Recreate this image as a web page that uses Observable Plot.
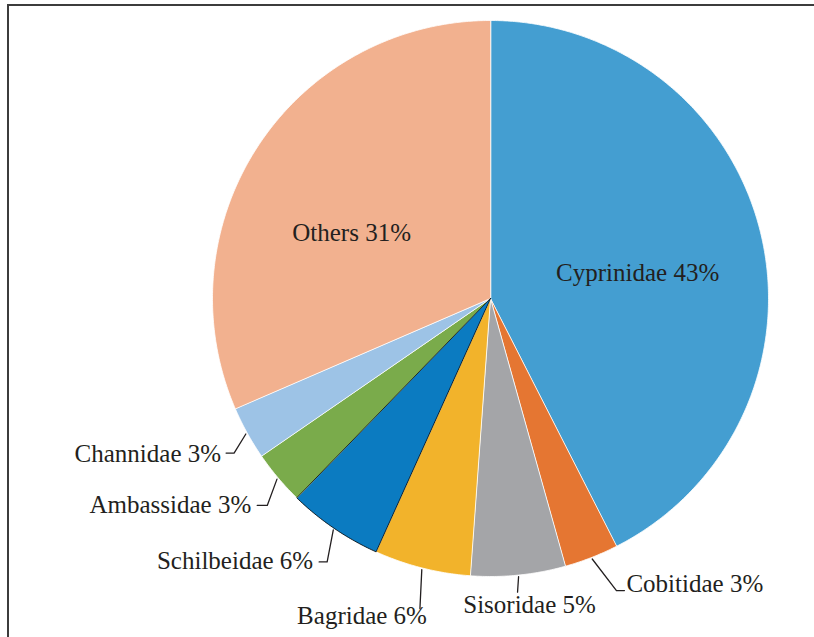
<!DOCTYPE html>
<html>
<head>
<meta charset="utf-8">
<script src="https://cdn.jsdelivr.net/npm/d3@7"></script>
<script src="https://cdn.jsdelivr.net/npm/@observablehq/plot@0.6"></script>
<style>
  html, body { margin: 0; padding: 0; background: #fff; }
  #wrap { position: relative; width: 814px; height: 637px; overflow: hidden; }
  #frame { position: absolute; left: 7px; top: 4px; width: 900px; height: 700px;
           border-top: 2px solid #3c3c3c; border-left: 2px solid #3c3c3c; pointer-events: none; }
  svg { display: block; }
</style>
</head>
<body>
<div id="wrap"><div id="frame"></div></div>
<script>
// ---- data ----
const names = ["Cyprinidae", "Cobitidae", "Sisoridae", "Bagridae", "Schilbeidae", "Ambassidae", "Channidae", "Others"];
const shares = [42.5, 3.15, 5.5, 5.6, 5.5, 3.15, 3.1, 31.5];
const labels = ["Cyprinidae 43%", "Cobitidae 3%", "Sisoridae 5%", "Bagridae 6%", "Schilbeidae 6%", "Ambassidae 3%", "Channidae 3%", "Others 31%"];
const colors = ["#449ed1", "#e57632", "#a4a5a8", "#f2b32b", "#0b7bc1", "#7aab4b", "#9dc3e6", "#f2b18f"];

// ---- layout ----
const W = 814, H = 637, CX = 490, CY = 298, R = 278;
// label placement: inside labels use radius/angle nudge; outside labels get an elbow leader
const labelLayout = [
  {inside: true, r: 0.537, shift: 3.8, anchor: "middle"},
  {r: 1.144, shift: -2.0, hook: 8, tdx: 2, tdy: -7, anchor: "start"},
  {r: 1.061, shift: 0.5, hook: 0, tdx: 12, tdy: 13, anchor: "middle"},
  {r: 1.144, shift: -1.4, hook: 0, tdx: 7, tdy: 7, anchor: "end"},
  {r: 1.115, shift: -2.4, hook: -8, tdx: -6, tdy: -1, anchor: "end"},
  {r: 1.095, shift: -2.6, hook: -10, tdx: -6, tdy: 0, anchor: "end"},
  {r: 1.077, shift: -2.1, hook: -8, tdx: -5, tdy: 1, anchor: "end"},
  {inside: true, r: 0.553, shift: -7.9, anchor: "middle"}
];

const arcs = d3.pie().sort(null).value(d => d)(shares);
const pt = (a, r) => [r * Math.sin(a), r * Math.cos(a)];
const rad = deg => deg * Math.PI / 180;

// slice outlines
const slicePts = [];
arcs.forEach((a, i) => {
  slicePts.push({name: names[i], x: 0, y: 0});
  const n = Math.max(2, Math.ceil((a.endAngle - a.startAngle) / rad(0.5)));
  for (let k = 0; k <= n; k++) {
    const t = a.startAngle + (a.endAngle - a.startAngle) * k / n;
    const [x, y] = pt(t, 1);
    slicePts.push({name: names[i], x, y});
  }
});

// leaders and labels
const leaderPts = [];
const textPts = [];
arcs.forEach((a, i) => {
  const L = labelLayout[i];
  const mid = (a.startAngle + a.endAngle) / 2;
  if (L.inside) {
    const [x, y] = pt(mid + rad(L.shift), L.r);
    textPts.push({label: labels[i], x, y, anchor: L.anchor});
    return;
  }
  const [sx, sy] = pt(mid, 1.006);
  const [ex, ey] = pt(mid + rad(L.shift), L.r);
  const hx = ex + L.hook / R;
  leaderPts.push({name: names[i], x: sx, y: sy});
  leaderPts.push({name: names[i], x: ex, y: ey});
  if (L.hook) leaderPts.push({name: names[i], x: hx, y: ey});
  textPts.push({label: labels[i], x: hx + L.tdx / R, y: ey - L.tdy / R, anchor: L.anchor});
});

const font = "'Liberation Serif', 'Times New Roman', serif";
const textColor = "#231f20";

const plot = Plot.plot({
  width: W, height: H,
  margin: 0,
  x: {domain: [-CX / R, (W - CX) / R], axis: null},
  y: {domain: [-(H - CY) / R, CY / R], axis: null},
  color: {type: "ordinal", domain: names, range: colors},
  style: {background: "transparent", overflow: "visible"},
  marks: [
    Plot.line(slicePts, {x: "x", y: "y", z: "name", fill: "name", stroke: "#ffffff", strokeWidth: 0.8, curve: "linear-closed"}),
    Plot.line(slicePts.filter(d => d.name === "Schilbeidae"), {x: "x", y: "y", z: "name", fill: "name", stroke: "#000000", strokeWidth: 0.8, curve: "linear-closed"}),
    Plot.line(leaderPts, {x: "x", y: "y", z: "name", stroke: textColor, strokeWidth: 1.3}),
    Plot.text(textPts.filter(d => d.anchor === "start"), {x: "x", y: "y", text: "label", textAnchor: "start", fontSize: 25, fontFamily: font, fill: textColor}),
    Plot.text(textPts.filter(d => d.anchor === "middle"), {x: "x", y: "y", text: "label", textAnchor: "middle", fontSize: 25, fontFamily: font, fill: textColor}),
    Plot.text(textPts.filter(d => d.anchor === "end"), {x: "x", y: "y", text: "label", textAnchor: "end", fontSize: 25, fontFamily: font, fill: textColor})
  ]
});
document.getElementById("wrap").insertBefore(plot, document.getElementById("frame"));
</script>
</body>
</html>
